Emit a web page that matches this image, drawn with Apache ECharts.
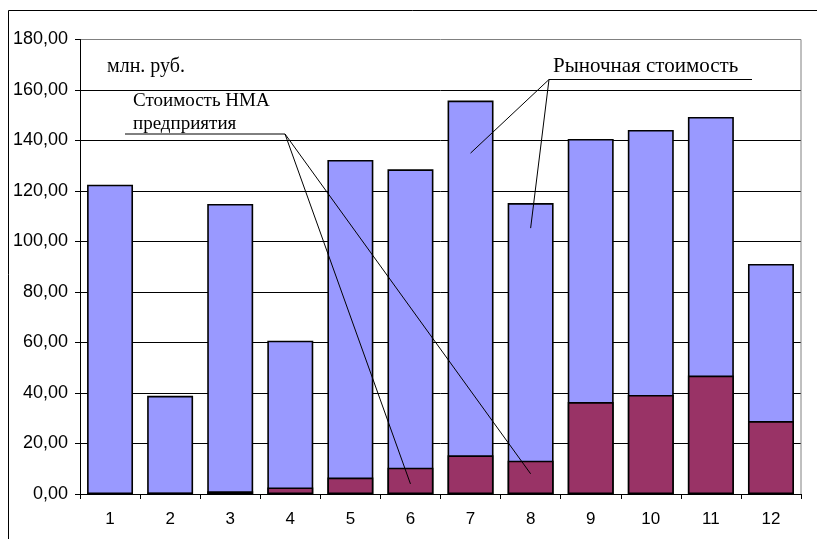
<!DOCTYPE html>
<html><head><meta charset="utf-8">
<script src="https://cdn.jsdelivr.net/npm/echarts@6/dist/echarts.min.js"></script>
<style>html,body{margin:0;padding:0;background:#fff}#c{width:817px;height:539px}</style>
</head><body><div id="c"></div>
<script>
const categories = ['1','2','3','4','5','6','7','8','9','10','11','12'];
const marketValue = [122.5, 38.9, 114.9, 60.7, 132.3, 128.6, 155.8, 115.2, 140.6, 144.2, 149.3, 91.1];
const nmaValue = [0, 0.3, 1.1, 2.6, 6.5, 10.4, 15.3, 13.2, 36.4, 39.2, 46.9, 28.9];
const unitLabel = 'млн. руб.';
const nmaLabel = ['Стоимость НМА', 'предприятия'];
const marketLabel = 'Рыночная стоимость';
// annotation pointer targets: [category index, value]
const nmaPointers = [[5, 4], [7, 8]];
const marketPointers = [[6, 135], [7, 105.3]];

const chart = echarts.init(document.getElementById('c'), null, {renderer:'canvas'});
const gridColors = ['#000','#000','#000','#000','#000','#000','#000','#000','#000','#808080'];
chart.setOption({
  animation: false,
  grid: {left: 80, top: 39.5, right: 16, bottom: 45},
  xAxis: {
    type: 'category', data: categories,
    axisLine: {lineStyle: {color: '#000', width: 1}},
    axisTick: {show: true, length: 5, alignWithLabel: false, lineStyle: {color: '#000'}},
    axisLabel: {color: '#000', fontFamily: 'Liberation Sans', fontSize: 17, margin: 17}
  },
  yAxis: {
    type: 'value', min: 0, max: 180, interval: 20,
    axisLine: {show: true, lineStyle: {color: '#000', width: 1}},
    axisTick: {show: true, length: 5, lineStyle: {color: '#000'}},
    axisLabel: {color: '#000', fontFamily: 'Liberation Sans', fontSize: 18, margin: 12,
      formatter: v => v.toFixed(2).replace('.', ',')},
    splitLine: {show: true, lineStyle: {color: gridColors, width: 1}}
  },
  series: [
    {type: 'bar', name: 'Рыночная стоимость', data: marketValue, barCategoryGap: '23.5%', barGap: '-100%',
     itemStyle: {color: '#9999FF', borderColor: '#000', borderWidth: 1.6}},
    {type: 'bar', name: 'Стоимость НМА', data: nmaValue, barCategoryGap: '23.5%', barGap: '-100%',
     itemStyle: {color: '#993366', borderColor: '#000', borderWidth: 1.6}}
  ]
});

function px(p){ return chart.convertToPixel({xAxisIndex:0, yAxisIndex:0}, p); }
const g = [];
function txt(s, x, top, size){
  g.push({type:'text', left:x, top:top, z:20, style:{text:s, font: size + 'px "Liberation Serif", "Times New Roman", serif', fill:'#000'}});
}
// outer chart frame
g.push({type:'line', shape:{x1:8.5,y1:10.5,x2:817,y2:10.5}, style:{stroke:'#000',lineWidth:1}});
g.push({type:'line', shape:{x1:8.5,y1:10.5,x2:8.5,y2:539}, style:{stroke:'#000',lineWidth:1}});
// plot area right border
g.push({type:'line', shape:{x1:801,y1:39.5,x2:801,y2:494}, style:{stroke:'#808080',lineWidth:1}, z:10});
txt(unitLabel, 107, 57, 20);
txt(nmaLabel[0], 133, 92, 19);
txt(nmaLabel[1], 133, 115, 19);
const nmaAnchor = [285, 134];
g.push({type:'line', shape:{x1:125,y1:134,x2:nmaAnchor[0],y2:nmaAnchor[1]}, style:{stroke:'#000',lineWidth:1}, z:20});
nmaPointers.forEach(p => { const q = px(p); g.push({type:'line', shape:{x1:nmaAnchor[0],y1:nmaAnchor[1],x2:q[0],y2:q[1]}, style:{stroke:'#000',lineWidth:1}, z:20}); });
txt(marketLabel, 553, 56, 21);
const mAnchor = [549, 79.5];
g.push({type:'line', shape:{x1:mAnchor[0],y1:mAnchor[1],x2:752,y2:mAnchor[1]}, style:{stroke:'#000',lineWidth:1}, z:20});
marketPointers.forEach(p => { const q = px(p); g.push({type:'line', shape:{x1:mAnchor[0],y1:mAnchor[1],x2:q[0],y2:q[1]}, style:{stroke:'#000',lineWidth:1}, z:20}); });
chart.setOption({graphic: g});
</script></body></html>
